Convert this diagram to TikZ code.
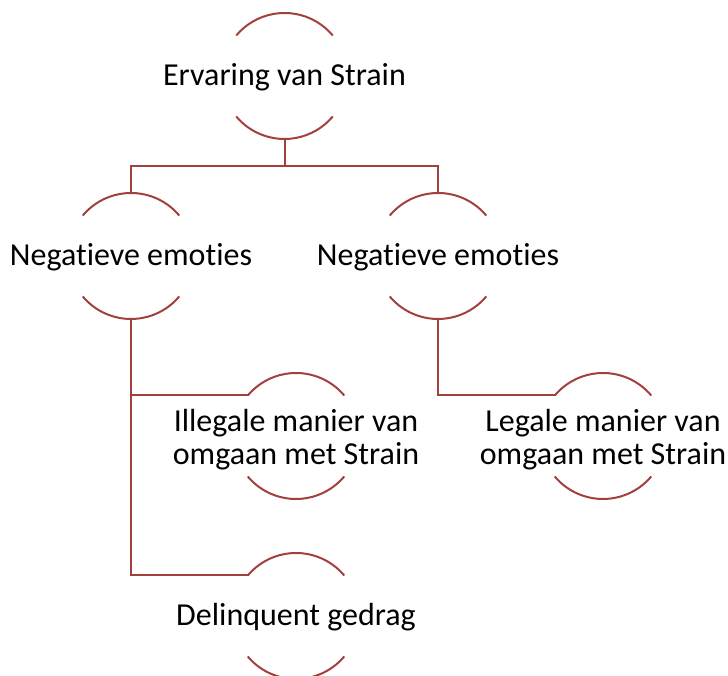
\documentclass[tikz,border=0pt]{standalone}
\usepackage{fontspec}
\setmainfont[Ligatures=NoCommon]{Carlito}
\definecolor{lnred}{RGB}{162,64,62}
\begin{document}
\begin{tikzpicture}[x=1pt,y=1pt,
  ln/.style={draw=lnred,line width=2pt},
  ring/.style={circle,minimum size=126pt,inner sep=0pt,outer sep=0pt},
  lbl/.style={font=\fontsize{32}{33}\selectfont,align=center,inner sep=0pt,anchor=base}]
\useasboundingbox (0,0) rectangle (728,676);
\node[ring] (A) at (284.5,600) {};
\node[ring] (B) at (131,420) {};
\node[ring] (C) at (438,420) {};
\node[ring] (D) at (296,240) {};
\node[ring] (E) at (603,240) {};
\node[ring] (F) at (296,60) {};
\foreach \n in {A,B,C,D,E,F}{
  \draw[ln] (\n.40) arc[start angle=40,end angle=140,radius=63pt];
  \draw[ln] (\n.220) arc[start angle=220,end angle=320,radius=63pt];
}
\node[lbl] (At) at ([yshift=-10pt]A.center) {Ervaring van Strain};
\node[lbl] (Bt) at ([yshift=-10pt]B.center) {Negatieve emoties};
\node[lbl] (Ct) at ([yshift=-10pt]C.center) {Negatieve emoties};
\node[lbl] (Dt) at ([yshift=-29pt]D.center) {Illegale manier van\\omgaan met Strain};
\node[lbl] (Et) at ([yshift=-29pt]E.center) {Legale manier van\\omgaan met Strain};
\node[lbl] (Ft) at ([yshift=-10pt]F.center) {Delinquent gedrag};
\coordinate (j) at ([yshift=-27pt]A.south);
\draw[ln] (A.south) -- (j) -| (B.north);
\draw[ln] (j) -| (C.north);
\draw[ln] (B.south) |- (D.140);
\draw[ln] (B.south) |- (F.140);
\draw[ln] (C.south) |- (E.140);
\end{tikzpicture}
\end{document}
